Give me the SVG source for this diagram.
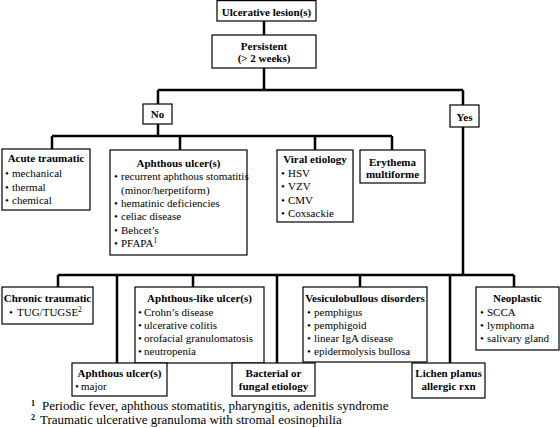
<svg xmlns="http://www.w3.org/2000/svg" width="560" height="428" viewBox="0 0 560 428" font-family="'Liberation Serif', 'Times New Roman', serif">
<style>
.box{fill:#fff;stroke:#000;stroke-width:1.2}
.c{stroke:#000;stroke-width:2.5;fill:none}
text{font-family:'Liberation Serif','Times New Roman',serif;font-size:11px;fill:#000}
.t{font-weight:bold;text-anchor:middle}
.fn{font-size:13px}
.sup{font-size:7.5px}
</style>
<rect width="560" height="428" fill="#fff"/>
<g id="connectors">
<path class="c" d="M264 21V35M264 68V90M158 90H463M158 90V104M463 90V105M158 124V136M52 136H392M52 136V149M180 136V150M315 136V150M392 136V150M463 127V275M58 275H514M58 275V287M117 275V363M193 275V287M277 275V363M360 275V287M450 275V363M514 275V287"/>
</g>
<g id="ulcerative">
<rect class="box" x="217" y="0.6" width="99" height="20.4"/>
<text class="t" x="266.5" y="15.5">Ulcerative lesion(s)</text>
</g>
<g id="persistent">
<rect class="box" x="212" y="35" width="104" height="33"/>
<text class="t" x="264" y="49.5">Persistent</text>
<text class="t" x="264" y="62">(&gt; 2 weeks)</text>
</g>
<g id="no">
<rect class="box" x="143" y="104" width="29" height="20"/>
<text class="t" x="157.5" y="117.5">No</text>
</g>
<g id="yes">
<rect class="box" x="450" y="105" width="29" height="22"/>
<text class="t" x="464.5" y="120.5">Yes</text>
</g>
<g id="acute">
<rect class="box" x="2" y="149" width="88" height="61"/>
<text class="t" x="46" y="162">Acute traumatic</text>
<text x="5" y="177">•<tspan x="12">mechanical</tspan></text>
<text x="5" y="190.5">•<tspan x="12">thermal</tspan></text>
<text x="5" y="204">•<tspan x="12">chemical</tspan></text>
</g>
<g id="aphthous">
<rect class="box" x="110" y="150" width="137" height="105"/>
<text class="t" x="178.5" y="167">Aphthous ulcer(s)</text>
<text x="114" y="180.3">•<tspan x="121">recurrent aphthous stomatitis</tspan></text>
<text x="121" y="193.6">(minor/herpetiform)</text>
<text x="114" y="206.9">•<tspan x="121">hematinic deficiencies</tspan></text>
<text x="114" y="220.2">•<tspan x="121">celiac disease</tspan></text>
<text x="114" y="233.5">•<tspan x="121">Behcet’s</tspan></text>
<text x="114" y="246.8">•<tspan x="121">PFAPA</tspan><tspan class="sup" dy="-4">1</tspan></text>
</g>
<g id="viral">
<rect class="box" x="277" y="150" width="76" height="72"/>
<text class="t" x="315" y="163">Viral etiology</text>
<text x="281" y="176.5">•<tspan x="288">HSV</tspan></text>
<text x="281" y="190">•<tspan x="288">VZV</tspan></text>
<text x="281" y="203.5">•<tspan x="288">CMV</tspan></text>
<text x="281" y="217">•<tspan x="288">Coxsackie</tspan></text>
</g>
<g id="erythema">
<rect class="box" x="360" y="150" width="65" height="33"/>
<text class="t" x="392.5" y="165.5">Erythema</text>
<text class="t" x="392.5" y="177.5">multiforme</text>
</g>
<g id="chronic">
<rect class="box" x="2" y="287" width="91" height="37"/>
<text class="t" x="47.5" y="302">Chronic traumatic</text>
<text x="9" y="315.5">•<tspan x="17">TUG/TUGSE</tspan><tspan class="sup" dy="-4">2</tspan></text>
</g>
<g id="aphthous-like">
<rect class="box" x="135" y="287" width="129" height="76"/>
<text class="t" x="199.5" y="302">Aphthous-like ulcer(s)</text>
<text x="138" y="315.7">•<tspan x="144">Crohn’s disease</tspan></text>
<text x="138" y="329">•<tspan x="144">ulcerative colitis</tspan></text>
<text x="138" y="342">•<tspan x="144">orofacial granulomatosis</tspan></text>
<text x="138" y="354.5">•<tspan x="144">neutropenia</tspan></text>
</g>
<g id="vesiculobullous">
<rect class="box" x="303" y="287" width="124" height="75"/>
<text class="t" x="365" y="302">Vesiculobullous disorders</text>
<text x="307" y="315.7">•<tspan x="314">pemphigus</tspan></text>
<text x="307" y="329">•<tspan x="314">pemphigoid</tspan></text>
<text x="307" y="342">•<tspan x="314">linear IgA disease</tspan></text>
<text x="307" y="354.5">•<tspan x="314">epidermolysis bullosa</tspan></text>
</g>
<g id="neoplastic">
<rect class="box" x="476" y="287" width="83" height="63"/>
<text class="t" x="517.5" y="302">Neoplastic</text>
<text x="480" y="315.7">•<tspan x="487">SCCA</tspan></text>
<text x="480" y="329">•<tspan x="487">lymphoma</tspan></text>
<text x="480" y="342">•<tspan x="487">salivary gland</tspan></text>
</g>
<g id="aphthous-major">
<rect class="box" x="72" y="363" width="95" height="33"/>
<text class="t" x="119.5" y="377">Aphthous ulcer(s)</text>
<text x="75" y="390">•<tspan x="81">major</tspan></text>
</g>
<g id="bacterial">
<rect class="box" x="232" y="363" width="83" height="33"/>
<text class="t" x="273.5" y="377">Bacterial or</text>
<text class="t" x="273.5" y="390">fungal etiology</text>
</g>
<g id="lichen">
<rect class="box" x="412" y="363" width="73" height="35"/>
<text class="t" x="448.5" y="377">Lichen planus</text>
<text class="t" x="448.5" y="390">allergic rxn</text>
</g>
<g id="footnotes">
<text class="fn" x="31" y="410"><tspan font-size="8" font-weight="bold" dy="-4">1</tspan><tspan x="42" dy="4">Periodic fever, aphthous stomatitis, pharyngitis, adenitis syndrome</tspan></text>
<text class="fn" x="31" y="423.5"><tspan font-size="8" font-weight="bold" dy="-4">2</tspan><tspan x="40" dy="4">Traumatic ulcerative granuloma with stromal eosinophilia</tspan></text>
</g>
</svg>
